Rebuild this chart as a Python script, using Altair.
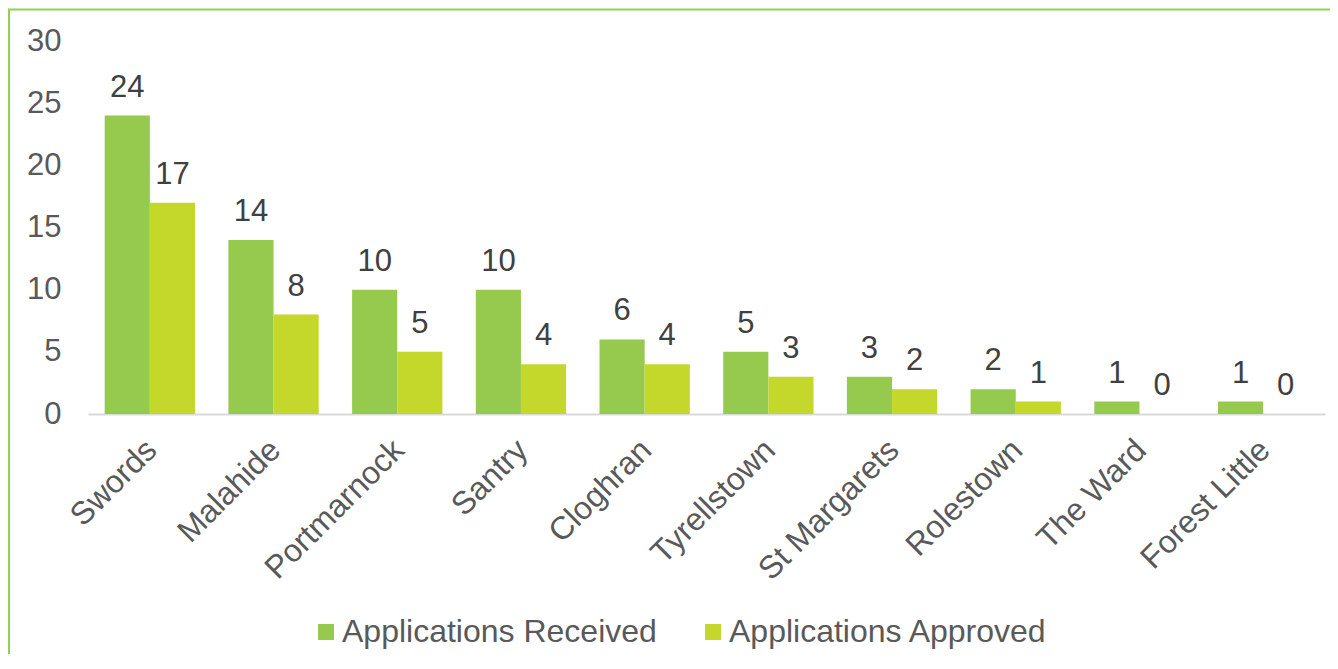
import altair as alt
import pandas as pd

locations = ["Swords", "Malahide", "Portmarnock", "Santry", "Cloghran",
             "Tyrellstown", "St Margarets", "Rolestown", "The Ward", "Forest Little"]
received = [24, 14, 10, 10, 6, 5, 3, 2, 1, 1]
approved = [17, 8, 5, 4, 4, 3, 2, 1, 0, 0]
series = ["Applications Received", "Applications Approved"]
colors = ["#96CA4F", "#C4D72B"]
y_ticks = [0, 5, 10, 15, 20, 25, 30]

rows = []
for loc, r, a in zip(locations, received, approved):
    rows.append({"Location": loc, "Series": series[0], "Value": r})
    rows.append({"Location": loc, "Series": series[1], "Value": a})
df = pd.DataFrame(rows)

FONT = "Liberation Sans"
FS = 31

x = alt.X("Location:N", sort=locations, title=None,
          scale=alt.Scale(paddingInner=0.27, paddingOuter=0.135),
          axis=alt.Axis(labelAngle=-45, labelFontSize=32, labelColor="#595959",
                        labelFont=FONT, labelLimit=0, ticks=False,
                        domainColor="#D9D9D9", domainWidth=2,
                        labelPadding=20, labelOffset=-9))
xo = alt.XOffset("Series:N", sort=series, scale=alt.Scale(paddingInner=0, paddingOuter=0))
y = alt.Y("Value:Q", scale=alt.Scale(domain=[0, 30]), title=None,
          axis=alt.Axis(values=y_ticks, grid=False, domain=False, ticks=False,
                        labelFontSize=FS, labelColor="#595959", labelFont=FONT,
                        labelPadding=27))
color = alt.Color("Series:N", sort=series,
                  scale=alt.Scale(domain=series, range=colors),
                  legend=alt.Legend(title=None, orient="none", legendX=222, legendY=575,
                                    direction="horizontal", symbolType="square",
                                    symbolSize=256, symbolStrokeWidth=0,
                                    labelFontSize=32, labelColor="#595959",
                                    labelFont=FONT, labelLimit=0,
                                    columnPadding=40, labelOffset=0))

base = alt.Chart(df)
bars = base.mark_bar().encode(x=x, xOffset=xo, y=y, color=color)
labels = base.mark_text(baseline="bottom", dy=-12, fontSize=FS, color="#404040",
                        font=FONT).encode(x=x, xOffset=xo, y=y, text="Value:Q")

border = alt.Chart(pd.DataFrame({"d": [0]})).mark_rect(
    fill="transparent", stroke="#92D050", strokeWidth=2
).encode(x=alt.value(-79), x2=alt.value(1400), y=alt.value(-31.5), y2=alt.value(900))

chart = alt.layer(border, bars, labels).properties(
    width=1237, height=373,
    autosize=alt.AutoSizeParams(type="none"),
    padding={"left": 80, "top": 33, "right": 5, "bottom": 240},
).configure_view(strokeWidth=0)

chart.save("out.html", embed_options={"renderer": "svg", "actions": False})
